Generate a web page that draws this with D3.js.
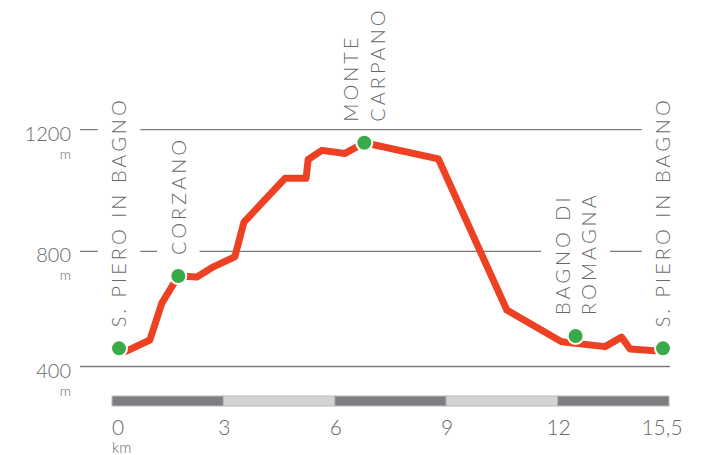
<!DOCTYPE html>
<html><head><meta charset="utf-8">
<script src="https://cdn.jsdelivr.net/npm/d3@7"></script>
<style>
html,body{margin:0;padding:0;background:#fff;}
svg{display:block;}
text{font-family:Lato,"Open Sans",sans-serif;font-weight:300;fill:#686868;}
</style>
</head><body>
<svg id="chart" width="717" height="455"></svg>
<script>
// ---- data ----
const profileKm   = [0.15, 0.88, 1.22, 1.69, 2.22, 2.69, 3.30, 3.56, 4.73, 5.33, 5.39, 5.78, 6.44, 6.99, 9.10, 11.05, 12.61, 13.85, 14.32, 14.56, 15.27, 15.5];
const profileElev = [450,  492,  620,  714,  711,  746,  781,  896,  1040, 1040, 1102, 1132, 1122, 1157, 1104, 596,   486,   469,   502,   461,   455,   457];
const stopNames = [["S. PIERO IN BAGNO"], ["CORZANO"], ["MONTE", "CARPANO"], ["BAGNO DI", "ROMAGNA"], ["S. PIERO IN BAGNO"]];
const stopKm   = [0, 1.69, 6.99, 13.01, 15.5];
const stopElev = [463, 714, 1157, 506, 463];
const elevTicks = [400, 800, 1200];
const kmTicks = [0, 3, 6, 9, 12, 15.5];
const kmTickLabels = ["0", "3", "6", "9", "12", "15,5"];
const barSegments = [[0, 3], [3, 6], [6, 9], [9, 12], [12, 15]];

// ---- scales ----
const svg = d3.select("#chart");
const x = d3.scaleLinear().domain([0, 15.5]).range([119, 663]);
const xBar = d3.scaleLinear().domain([0, 15]).range([112, 669]);
const y = d3.scaleLinear().domain([400, 800, 1200]).range([366.5, 251.3, 129.7]);

// gridlines
svg.append("g").selectAll("line").data(elevTicks).join("line")
  .attr("x1", 80).attr("x2", 670)
  .attr("y1", d => y(d)).attr("y2", d => y(d))
  .attr("stroke", "#7a7a7a").attr("stroke-width", 1.3);

// y labels
svg.append("g").selectAll("text.v").data(elevTicks).join("text").attr("class", "v")
  .attr("x", 71).attr("y", d => y(d) + 11)
  .attr("text-anchor", "end").style("font-size", "20px").text(d => d);
svg.append("g").selectAll("text.u").data(elevTicks).join("text").attr("class", "u")
  .attr("x", 71).attr("y", d => y(d) + 29)
  .attr("text-anchor", "end").style("font-size", "14px").text("m");

// distance bar
svg.append("g").selectAll("rect").data(barSegments).join("rect")
  .attr("x", d => xBar(d[0])).attr("width", d => xBar(d[1]) - xBar(d[0]))
  .attr("y", 396).attr("height", 10)
  .attr("fill", (d, i) => i % 2 ? "#d3d3d5" : "#7e7e82")
  .attr("stroke", "#b9b9bb").attr("stroke-width", 1);

// x labels
svg.append("g").selectAll("text").data(kmTicks).join("text")
  .attr("x", (d, i) => (i === 0 || i === kmTicks.length - 1) ? x(d) - 1 : xBar(d) + 1)
  .attr("y", 435).attr("text-anchor", "middle").style("font-size", "21px")
  .text((d, i) => kmTickLabels[i]);
svg.append("text").attr("x", 112).attr("y", 453).style("font-size", "15px").text("km");

// station labels (with knockout of gridlines)
const fs = 20, capH = fs * 0.72, lineGap = 26.5, pad = 14, ls = 3;
const lab = svg.append("g");
stopNames.forEach((lines, i) => {
  const g = lab.append("g")
    .attr("transform", `translate(${x(stopKm[i])},${y(stopElev[i]) - 21}) rotate(-90)`);
  const n = lines.length;
  const rect = g.append("rect").attr("fill", "#fff");
  let maxLen = 0;
  lines.forEach((t, j) => {
    const base = capH / 2 + (j - (n - 1) / 2) * lineGap;
    const tx = g.append("text").attr("x", 0).attr("y", base)
      .style("font-size", fs + "px").style("letter-spacing", ls + "px").text(t);
    maxLen = Math.max(maxLen, tx.node().getComputedTextLength());
  });
  const top = capH / 2 - (n - 1) / 2 * lineGap - capH - pad;
  const bot = capH / 2 + (n - 1) / 2 * lineGap + pad;
  rect.attr("x", -4).attr("width", maxLen + 6).attr("y", top).attr("height", bot - top);
});

// profile line
svg.append("path").datum(profileKm.map((k, i) => [k, profileElev[i]]))
  .attr("fill", "none").attr("stroke", "#ee4123").attr("stroke-width", 7)
  .attr("stroke-linejoin", "round")
  .attr("d", d3.line().x(d => x(d[0])).y(d => y(d[1])));

// stops
svg.append("g").selectAll("circle").data(stopKm).join("circle")
  .attr("cx", d => x(d)).attr("cy", (d, i) => y(stopElev[i]))
  .attr("r", 8).attr("fill", "#3aaa49").attr("stroke", "#fff").attr("stroke-width", 2);
</script>
</body></html>
